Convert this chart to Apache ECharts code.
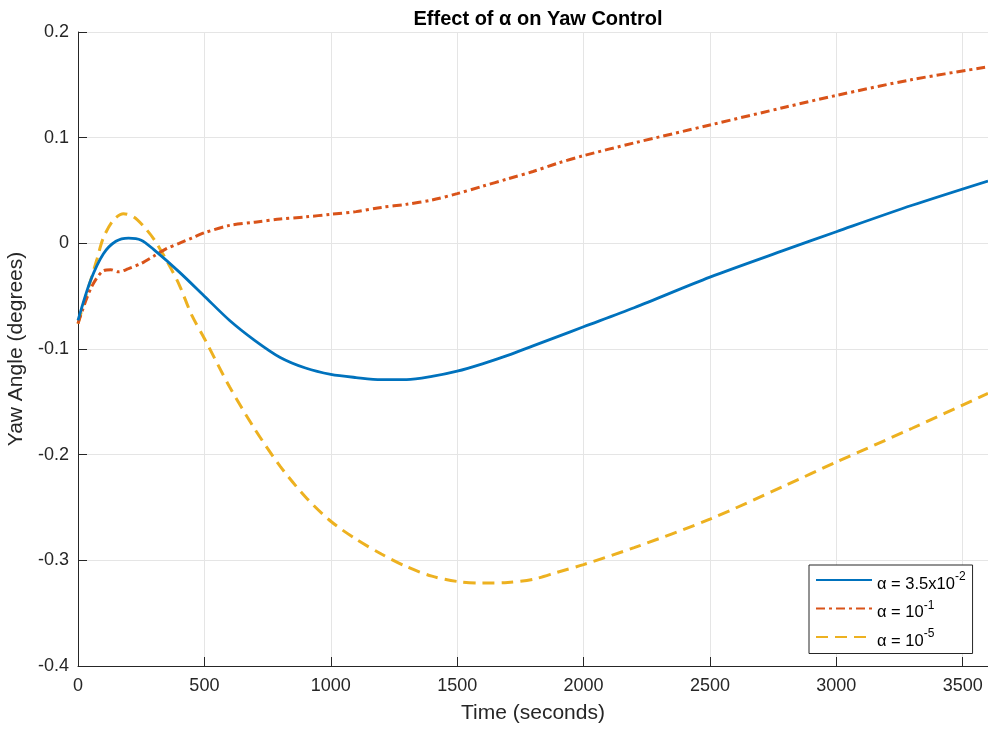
<!DOCTYPE html>
<html>
<head>
<meta charset="utf-8">
<script src="https://cdn.jsdelivr.net/npm/echarts@6/dist/echarts.min.js"></script>
<style>html,body{margin:0;padding:0;background:#fff}#c{width:988px;height:729px}</style>
</head>
<body>
<div id="c"></div>
<script>
const xTicks = [0, 500, 1000, 1500, 2000, 2500, 3000, 3500];
const yTicks = [-0.4, -0.3, -0.2, -0.1, 0, 0.1, 0.2];

const blueT = [0, 50, 100, 150, 200, 250, 300, 400, 500, 600, 700, 800, 900, 1000, 1100, 1200, 1300, 1400, 1500, 1600, 1700, 1800, 1900, 2000, 2200, 2500, 2800, 3000, 3300, 3600];
const blueV = [-0.073, -0.035, -0.01, 0.002, 0.005, 0.003, -0.006, -0.027, -0.05, -0.073, -0.092, -0.108, -0.118, -0.124, -0.127, -0.129, -0.129, -0.126, -0.121, -0.114, -0.106, -0.097, -0.088, -0.079, -0.061, -0.032, -0.006, 0.011, 0.036, 0.059];

const orangeT = [0, 50, 100, 130, 160, 200, 250, 300, 350, 400, 450, 500, 600, 700, 800, 900, 1000, 1100, 1200, 1300, 1400, 1500, 1600, 1700, 1800, 1900, 2000, 2200, 2500, 2800, 3000, 3300, 3600];
const orangeV = [-0.076, -0.043, -0.026, -0.025, -0.027, -0.024, -0.019, -0.012, -0.005, 0.0, 0.005, 0.010, 0.017, 0.020, 0.023, 0.025, 0.0275, 0.030, 0.034, 0.037, 0.041, 0.047, 0.054, 0.061, 0.068, 0.076, 0.083, 0.095, 0.112, 0.129, 0.140, 0.155, 0.167];

const yellowT = [0, 25, 50, 75, 100, 140, 180, 220, 260, 300, 350, 400, 450, 500, 600, 700, 800, 900, 1000, 1100, 1200, 1300, 1400, 1500, 1600, 1700, 1800, 1900, 2000, 2200, 2500, 2800, 3000, 3300, 3600];
const yellowV = [-0.076, -0.055, -0.035, -0.015, 0.005, 0.022, 0.028, 0.025, 0.016, 0.004, -0.016, -0.039, -0.068, -0.090, -0.136, -0.176, -0.211, -0.240, -0.263, -0.280, -0.294, -0.306, -0.315, -0.320, -0.3215, -0.321, -0.318, -0.311, -0.304, -0.288, -0.261, -0.229, -0.207, -0.175, -0.142];

const seriesNames = ['a35e-2', 'a1e-1', 'a1e-5'];
const legendLabels = {
  'a35e-2': '{n|α = 3.5x10}{s|-2}',
  'a1e-1': '{n|α = 10}{s|-1}',
  'a1e-5': '{n|α = 10}{s|-5}'
};

const zip = (t, v) => t.map((x, i) => [x, v[i]]);
const FONT = '"Liberation Sans", Arial, Helvetica, sans-serif';
const AX = '#262626';

const chart = echarts.init(document.getElementById('c'), null, {renderer: 'canvas'});
chart.setOption({
  animation: false,
  backgroundColor: '#ffffff',
  textStyle: {fontFamily: FONT},
  title: {
    text: 'Effect of α on Yaw Control',
    left: 533, top: 4, textAlign: 'center',
    textStyle: {fontFamily: FONT, fontSize: 20, fontWeight: 'bold', color: '#000'}
  },
  grid: {left: 78, right: 0, top: 32, bottom: 63, containLabel: false, outerBoundsMode: 'none'},
  xAxis: {
    type: 'value', min: 0, max: 3600, interval: 500,
    name: 'Time (seconds)', nameLocation: 'middle', nameGap: 37,
    nameTextStyle: {fontFamily: FONT, fontSize: 21, color: AX},
    axisLine: {show: true, onZero: false, lineStyle: {color: AX, width: 1}},
    axisTick: {show: true, inside: true, length: 9, lineStyle: {color: AX},
      customValues: xTicks},
    axisLabel: {fontFamily: FONT, fontSize: 18, color: AX, margin: 11,
      customValues: xTicks,
      formatter: v => xTicks.includes(v) ? String(v) : ''},
    splitLine: {show: true, lineStyle: {color: '#e5e5e5', width: 1}}
  },
  yAxis: {
    type: 'value', min: -0.4, max: 0.2, interval: 0.1,
    name: 'Yaw Angle (degrees)', nameLocation: 'middle', nameGap: 45,
    nameTextStyle: {fontFamily: FONT, fontSize: 21, color: AX},
    axisLine: {show: true, onZero: false, lineStyle: {color: AX, width: 1}},
    axisTick: {show: true, inside: true, length: 9, lineStyle: {color: AX}},
    axisLabel: {fontFamily: FONT, fontSize: 18, color: AX, margin: 9,
      formatter: v => {
        const r = Math.round(v * 10) / 10;
        const m = yTicks.find(t => Math.abs(t - r) < 1e-9);
        return m === undefined ? '' : (m === 0 ? '0' : String(m));
      }},
    splitLine: {show: true, lineStyle: {color: '#e5e5e5', width: 1}}
  },
  legend: {
    left: 809, top: 565, orient: 'vertical',
    backgroundColor: '#ffffff', borderColor: AX, borderWidth: 1, borderRadius: 0,
    padding: [6, 7, 4, 6],
    itemWidth: 56, itemHeight: 20, itemGap: 7,
    itemStyle: {opacity: 0},
    data: seriesNames,
    formatter: name => legendLabels[name],
    textStyle: {
      fontFamily: FONT, color: '#000',
      rich: {
        n: {fontFamily: FONT, fontSize: 16.5, color: '#000', padding: [8, 0, 0, 0]},
        s: {fontFamily: FONT, fontSize: 12, color: '#000', padding: [0, 0, 6, 0]}
      }
    }
  },
  series: [
    {name: seriesNames[0], type: 'line', data: zip(blueT, blueV), showSymbol: false, symbol: 'none',
      smooth: 0.3, z: 3,
      lineStyle: {color: '#0072BD', width: 2.8}, itemStyle: {color: '#0072BD'}},
    {name: seriesNames[1], type: 'line', data: zip(orangeT, orangeV), showSymbol: false, symbol: 'none',
      smooth: 0.3, z: 2,
      lineStyle: {color: '#D95319', width: 3, type: [9, 4, 3, 4]}, itemStyle: {color: '#D95319'}},
    {name: seriesNames[2], type: 'line', data: zip(yellowT, yellowV), showSymbol: false, symbol: 'none',
      smooth: 0.3, z: 1,
      lineStyle: {color: '#EDB120', width: 3, type: [12, 7]}, itemStyle: {color: '#EDB120'}}
  ]
});
</script>
</body>
</html>
